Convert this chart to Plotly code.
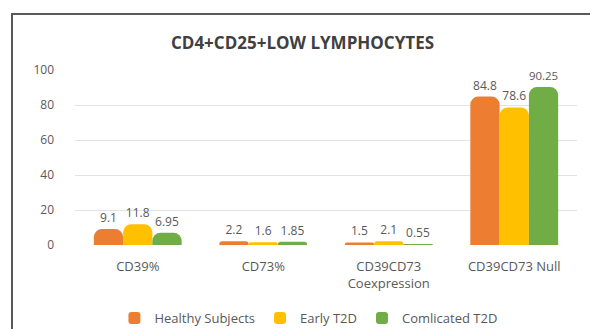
import plotly.graph_objects as go

categories = ["CD39%", "CD73%", "CD39CD73<br>Coexpression", "CD39CD73 Null"]
series_names = ["Healthy Subjects", "Early T2D", "Comlicated T2D"]
healthy = [9.1, 2.2, 1.5, 84.8]
early = [11.8, 1.6, 2.1, 78.6]
complicated = [6.95, 1.85, 0.55, 90.25]
colors = ["#ED7D31", "#FFC000", "#70AD47"]
y_ticks = [0, 20, 40, 60, 80, 100]

fig = go.Figure()
for name, vals, col in zip(series_names, [healthy, early, complicated], colors):
    fig.add_trace(go.Bar(
        x=categories, y=vals, name=name,
        marker=dict(color=col, line=dict(width=0)),
        text=[f"{v:g}" for v in vals], textposition="outside",
        textfont=dict(size=12, color="#595959"),
        cliponaxis=False,
    ))

# page body has an 8px margin; positions below are in figure coordinates
L, T, R, B = 67, 62, 569, 237
W, H = 598, 329
PH = B - T
PW = R - L

font = "Open Sans"
fig.update_layout(
    width=W, height=H,
    margin=dict(l=L, r=W - R, t=T, b=H - B, autoexpand=False),
    paper_bgcolor="white", plot_bgcolor="white",
    font=dict(family=font, color="#595959", size=12),
    barmode="group", bargap=0.3, bargroupgap=0.0, barcornerradius=8,
    showlegend=True,
    title=dict(text="CD4+CD25+LOW LYMPHOCYTES", x=0.4925, xanchor="center",
               xref="container",
               y=1 - 35 / H, yanchor="middle",
               font=dict(size=17, color="#404040", family=font, weight="bold")),
    legend=dict(orientation="h", x=0.465, xanchor="center",
                yref="container", y=1 - 310 / H, yanchor="middle",
                font=dict(size=13, color="#595959"),
                traceorder="normal"),
    xaxis=dict(showgrid=False, showline=False, zeroline=False, ticks="",
               ticklabelstandoff=12,
               tickfont=dict(size=13, color="#595959")),
    yaxis=dict(range=[0, 100], tickvals=y_ticks, showgrid=True, gridcolor="#E3E3E3",
               gridwidth=1, zeroline=False, showline=False, ticks="",
               ticklabelstandoff=20, tickfont=dict(size=12, color="#595959")),
    shapes=[dict(type="rect", xref="paper", yref="paper",
                 x0=(4 - L) / PW, x1=(586 - L) / PW,
                 y0=-0.8, y1=(B - 6) / PH,
                 line=dict(color="#595959", width=2), fillcolor="rgba(0,0,0,0)",
                 layer="below")],
)

fig.write_html("out.html")
